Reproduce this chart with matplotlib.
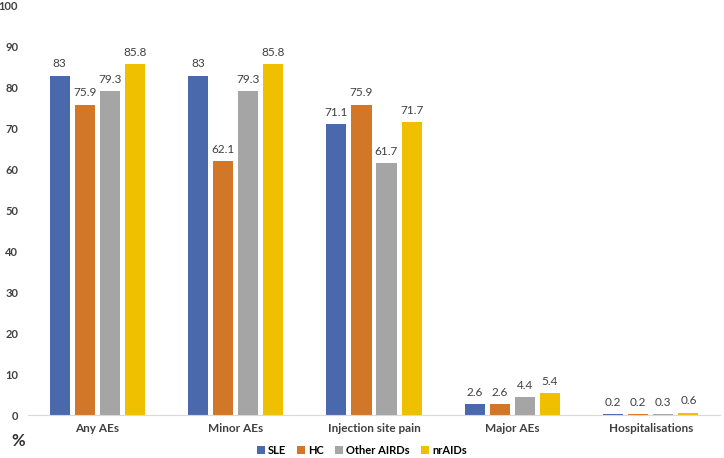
import matplotlib
matplotlib.use("Agg")
import matplotlib.pyplot as plt
import numpy as np

plt.rcParams['font.family'] = ['Lato', 'DejaVu Sans']

categories = ["Any AEs", "Minor AEs", "Injection site pain", "Major AEs", "Hospitalisations"]
groups = ["SLE", "HC", "Other AIRDs", "nrAIDs"]
sle = [83, 83, 71.1, 2.6, 0.2]
hc = [75.9, 62.1, 75.9, 2.6, 0.2]
other_airds = [79.3, 79.3, 61.7, 4.4, 0.3]
nraids = [85.8, 85.8, 71.7, 5.4, 0.6]
colors = ["#4a69ad", "#d27628", "#a5a5a5", "#efc000"]

series = [sle, hc, other_airds, nraids]

fig = plt.figure(figsize=(7.24, 4.58), dpi=100)
ax = fig.add_axes([28 / 724, 1 - 415 / 458, 692 / 724, 409 / 458])

x = np.arange(len(categories))
pitch = 0.181
width = 0.145
for i, (vals, name, c) in enumerate(zip(series, groups, colors)):
    pos = x + (i - 1.5) * pitch
    bars = ax.bar(pos, vals, width, color=c, label=name)
    for xp, v in zip(pos, vals):
        ax.text(xp, v + 1.5, f"{v:g}", ha="center", va="bottom", fontsize=8.5, color="#404040")

ax.set_xlim(-0.5, 4.5)
ax.set_ylim(0, 100)
ax.set_yticks(range(0, 101, 10))
ax.tick_params(axis="y", length=0, labelsize=8, pad=7)
ax.tick_params(axis="x", length=0, labelsize=8.5, pad=6)
for lab in ax.get_yticklabels():
    lab.set_fontweight("bold")
    lab.set_color("#404040")
ax.set_xticks(x)
ax.set_xticklabels(categories, fontweight="bold", color="#404040")
for s in ["top", "right", "left"]:
    ax.spines[s].set_visible(False)
ax.spines["bottom"].set_color("#d9d9d9")

fig.text(18 / 724, 1 - 441 / 458, "%", fontsize=12, fontweight="bold", ha="center", va="center", color="#303030")

fig.legend(loc="center", bbox_to_anchor=(362 / 724, 1 - 450 / 458), ncol=4, frameon=False,
           handlelength=0.7, handleheight=0.7, handletextpad=0.3, columnspacing=1.0,
           prop={"weight": "bold", "size": 8})

fig.savefig("out.png", dpi=100)
